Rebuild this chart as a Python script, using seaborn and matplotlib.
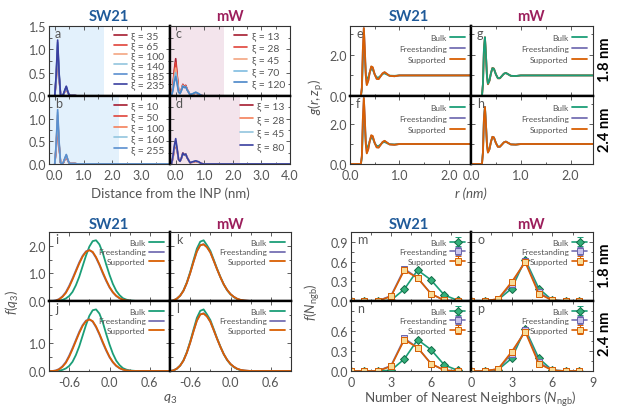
import numpy as np
import matplotlib
matplotlib.use("Agg")
import matplotlib.pyplot as plt
import seaborn as sns
from matplotlib.ticker import AutoMinorLocator

# ---------------- data: density profiles (a-d) ----------------
dist_sw = [0.0, 0.05, 0.1, 0.15, 0.2, 0.25, 0.3, 0.35, 0.4, 0.45, 0.5, 0.55, 0.6, 0.7, 0.8, 0.9, 1.0, 4.0]
dist_mw = [-0.15, -0.1, -0.05, 0.0, 0.05, 0.1, 0.15, 0.2, 0.25, 0.3, 0.35, 0.4, 0.5, 0.6, 0.7, 0.8, 0.9, 1.0, 1.2, 4.0]

xi_a = [35, 65, 100, 140, 185, 235]
rho_a = [
    [0, 0.35, 0.95, 0.40, 0.03, 0, 0.03, 0.10, 0.16, 0.08, 0.02, 0.01, 0.01, 0.01, 0, 0, 0, 0],
    [0, 0.37, 1.00, 0.42, 0.03, 0, 0.03, 0.10, 0.17, 0.09, 0.02, 0.01, 0.01, 0.01, 0, 0, 0, 0],
    [0, 0.40, 1.05, 0.44, 0.03, 0, 0.03, 0.11, 0.18, 0.09, 0.02, 0.01, 0.01, 0.01, 0, 0, 0, 0],
    [0, 0.42, 1.10, 0.46, 0.03, 0, 0.03, 0.12, 0.19, 0.10, 0.02, 0.01, 0.01, 0.01, 0, 0, 0, 0],
    [0, 0.44, 1.15, 0.48, 0.03, 0, 0.04, 0.12, 0.20, 0.10, 0.02, 0.01, 0.01, 0.01, 0, 0, 0, 0],
    [0, 0.46, 1.20, 0.50, 0.03, 0, 0.04, 0.13, 0.21, 0.10, 0.02, 0.01, 0.01, 0.01, 0, 0, 0, 0],
]
xi_b = [10, 50, 100, 160, 255]
rho_b = [
    [0, 0.35, 0.95, 0.40, 0.03, 0, 0.03, 0.10, 0.17, 0.08, 0.02, 0.01, 0.01, 0.01, 0, 0, 0, 0],
    [0, 0.38, 1.00, 0.42, 0.03, 0, 0.03, 0.11, 0.18, 0.09, 0.02, 0.01, 0.01, 0.01, 0, 0, 0, 0],
    [0, 0.41, 1.08, 0.45, 0.03, 0, 0.03, 0.11, 0.19, 0.09, 0.02, 0.01, 0.01, 0.01, 0, 0, 0, 0],
    [0, 0.43, 1.14, 0.47, 0.03, 0, 0.04, 0.12, 0.20, 0.10, 0.02, 0.01, 0.01, 0.01, 0, 0, 0, 0],
    [0, 0.46, 1.20, 0.50, 0.03, 0, 0.04, 0.13, 0.21, 0.10, 0.02, 0.01, 0.01, 0.01, 0, 0, 0, 0],
]
xi_c = [13, 28, 45, 70, 120]
rho_c = [
    [0, 0.20, 0.55, 0.80, 0.45, 0.12, 0.06, 0.14, 0.25, 0.20, 0.23, 0.14, 0.03, 0.04, 0.07, 0.04, 0.01, 0, 0, 0],
    [0, 0.18, 0.50, 0.72, 0.42, 0.12, 0.06, 0.14, 0.24, 0.20, 0.22, 0.14, 0.03, 0.04, 0.07, 0.04, 0.01, 0, 0, 0],
    [0, 0.15, 0.42, 0.60, 0.36, 0.10, 0.06, 0.13, 0.23, 0.19, 0.21, 0.13, 0.03, 0.04, 0.07, 0.04, 0.01, 0, 0, 0],
    [0, 0.13, 0.36, 0.50, 0.30, 0.09, 0.05, 0.12, 0.22, 0.18, 0.20, 0.13, 0.03, 0.05, 0.08, 0.05, 0.01, 0, 0, 0],
    [0, 0.11, 0.30, 0.42, 0.26, 0.08, 0.05, 0.12, 0.21, 0.18, 0.20, 0.13, 0.03, 0.05, 0.08, 0.05, 0.01, 0, 0, 0],
]
xi_d = [13, 28, 45, 80]
rho_d = [
    [0, 0.12, 0.32, 0.45, 0.30, 0.10, 0.06, 0.13, 0.24, 0.20, 0.22, 0.14, 0.03, 0.04, 0.06, 0.04, 0.01, 0, 0, 0],
    [0, 0.13, 0.34, 0.48, 0.31, 0.10, 0.06, 0.13, 0.24, 0.20, 0.22, 0.14, 0.03, 0.04, 0.06, 0.04, 0.01, 0, 0, 0],
    [0, 0.14, 0.36, 0.50, 0.32, 0.10, 0.06, 0.13, 0.23, 0.19, 0.22, 0.14, 0.03, 0.05, 0.07, 0.04, 0.01, 0, 0, 0],
    [0, 0.16, 0.40, 0.56, 0.34, 0.10, 0.06, 0.13, 0.24, 0.20, 0.22, 0.14, 0.03, 0.05, 0.07, 0.05, 0.01, 0, 0, 0],
]
cols_a = ['#a51c30', '#e0433a', '#f4a582', '#92c5de', '#5a8fcf', '#3a3fa0']
cols_b = ['#a51c30', '#e0433a', '#f4805a', '#92c5de', '#5a8fcf']
cols_c = ['#a51c30', '#e0433a', '#f4a582', '#7fbce0', '#4a86c8']
cols_d = ['#a51c30', '#f4805a', '#92c5de', '#3a3fa0']

# ---------------- data: g(r) (e-h) ----------------
r_nm = [0.0, 0.22, 0.24, 0.26, 0.28, 0.30, 0.32, 0.34, 0.37, 0.40, 0.43, 0.46,
        0.50, 0.54, 0.58, 0.62, 0.66, 0.70, 0.75, 0.80, 0.90, 1.00, 1.20, 2.45]
gr_sw_bulk = [0, 0, 0.3, 1.7, 2.45, 1.9, 1.1, 0.8, 0.9, 1.15, 1.32, 1.28, 1.05, 0.9, 0.9, 0.98, 1.07, 1.1, 1.04, 0.99, 0.98, 1.0, 1.0, 1.0]
gr_sw_free = [0, 0, 0.4, 2.2, 3.3, 2.3, 1.0, 0.55, 0.75, 1.15, 1.42, 1.38, 1.05, 0.84, 0.83, 0.96, 1.1, 1.15, 1.07, 0.98, 0.96, 1.0, 1.0, 1.0]
gr_sw_supp = [0, 0, 0.4, 2.25, 3.3, 2.3, 0.98, 0.53, 0.74, 1.15, 1.44, 1.4, 1.05, 0.83, 0.82, 0.96, 1.1, 1.16, 1.07, 0.98, 0.96, 1.0, 1.0, 1.0]
gr_mw_bulk = [0, 0, 0.6, 2.3, 2.85, 2.0, 1.0, 0.6, 0.75, 1.1, 1.35, 1.32, 1.05, 0.87, 0.87, 0.97, 1.08, 1.12, 1.05, 0.98, 0.97, 1.0, 1.0, 1.0]
gr_mw_free = [0, 0, 0.6, 2.3, 2.85, 2.0, 0.98, 0.58, 0.74, 1.1, 1.36, 1.33, 1.05, 0.86, 0.86, 0.97, 1.08, 1.12, 1.05, 0.98, 0.97, 1.0, 1.0, 1.0]
gr_mw_supp = [0, 0, 0.55, 2.25, 2.85, 2.0, 0.98, 0.57, 0.73, 1.1, 1.36, 1.33, 1.05, 0.86, 0.86, 0.97, 1.08, 1.12, 1.05, 0.98, 0.97, 1.0, 1.0, 1.0]

# ---------------- data: q3 distributions (i-l) ----------------
q3 = np.round(np.arange(-0.9, 0.901, 0.05), 2)
fq_sw_bulk = [0, 0, 0, 0.01, 0.04, 0.09, 0.18, 0.33, 0.57, 0.88, 1.26, 1.64, 1.97, 2.17, 2.2, 2.05, 1.74, 1.33, 0.95,
              0.62, 0.37, 0.21, 0.10, 0.05, 0.02, 0.01, 0, 0, 0, 0, 0, 0, 0, 0, 0, 0, 0]
fq_sw_free = [0, 0, 0.02, 0.07, 0.17, 0.32, 0.55, 0.82, 1.11, 1.40, 1.64, 1.80, 1.85, 1.76, 1.56, 1.30, 1.00, 0.73, 0.49,
              0.31, 0.18, 0.10, 0.05, 0.02, 0.01, 0, 0, 0, 0, 0, 0, 0, 0, 0, 0, 0, 0]
fq_sw_supp = [0, 0, 0.01, 0.06, 0.15, 0.29, 0.51, 0.78, 1.07, 1.36, 1.61, 1.78, 1.84, 1.78, 1.59, 1.33, 1.04, 0.76, 0.51,
              0.32, 0.19, 0.10, 0.05, 0.02, 0.01, 0, 0, 0, 0, 0, 0, 0, 0, 0, 0, 0, 0]
fq_mw_bulk = [0, 0.02, 0.08, 0.19, 0.38, 0.67, 1.05, 1.48, 1.90, 2.15, 2.20, 2.02, 1.82, 1.50, 1.17, 0.87, 0.60, 0.39, 0.24,
              0.14, 0.07, 0.03, 0.01, 0, 0, 0, 0, 0, 0, 0, 0, 0, 0, 0, 0, 0, 0]
fq_mw_free = [0, 0.02, 0.08, 0.19, 0.37, 0.65, 1.01, 1.42, 1.80, 2.02, 2.06, 1.95, 1.76, 1.46, 1.15, 0.86, 0.60, 0.40, 0.25,
              0.15, 0.08, 0.04, 0.02, 0.01, 0, 0, 0, 0, 0, 0, 0, 0, 0, 0, 0, 0, 0]
fq_mw_supp = [0, 0.02, 0.08, 0.19, 0.37, 0.65, 1.01, 1.42, 1.80, 2.02, 2.05, 1.95, 1.76, 1.46, 1.15, 0.86, 0.60, 0.40, 0.25,
              0.15, 0.08, 0.04, 0.02, 0.01, 0, 0, 0, 0, 0, 0, 0, 0, 0, 0, 0, 0, 0]

# ---------------- data: nearest neighbours (m-p) ----------------
n_ngb = [0, 1, 2, 3, 4, 5, 6, 7, 8]
fn_sw_bulk = [0, 0, 0, 0.01, 0.18, 0.47, 0.32, 0.09, 0.01]
fn_sw_free = [0, 0, 0, 0.08, 0.49, 0.35, 0.11, 0.01, 0]
fn_sw_supp = [0, 0, 0, 0.07, 0.47, 0.35, 0.11, 0.01, 0]
fn_mw_bulk = [0, 0, 0.02, 0.19, 0.63, 0.19, 0.01, 0, 0]
fn_mw_free = [0, 0, 0.03, 0.26, 0.61, 0.13, 0.01, 0, 0]
fn_mw_supp = [0, 0, 0.03, 0.29, 0.59, 0.11, 0.01, 0, 0]
fn_err = 0.012

systems = ['Bulk', 'Freestanding', 'Supported']
sys_cols = ['#1b9e77', '#7570b3', '#d95f02']

# ---------------- style ----------------
sns.set_theme(style="ticks")
plt.rcParams['font.family'] = ['Lato', 'DejaVu Sans']
plt.rcParams['mathtext.fontset'] = 'custom'
plt.rcParams['mathtext.rm'] = 'Lato'
plt.rcParams['mathtext.it'] = 'Lato:italic'
GRAY = '#555555'
SW_COL = '#1f5a99'
MW_COL = '#9c1f5c'

W, H = 620.0, 414.0
fig = plt.figure(figsize=(6.2, 4.14), dpi=100)


def box(l, t, r, b):
    return fig.add_axes([l / W, 1 - b / H, (r - l) / W, (b - t) / H])


def style(ax, left_col, top_row, letter):
    for s in ax.spines.values():
        s.set_color('#333333')
        s.set_linewidth(0.8)
    inner_x = 'right' if left_col else 'left'
    inner_y = 'bottom' if top_row else 'top'
    for s in (inner_x, inner_y):
        ax.spines[s].set_color('black')
        ax.spines[s].set_linewidth(1.7)
    ax.tick_params(which='both', direction='in', top=True, right=True,
                   color='#444444', width=0.6, labelsize=9, labelcolor=GRAY, pad=2)
    ax.tick_params(axis='x', pad=3.5)
    ax.tick_params(which='major', length=3)
    ax.tick_params(which='minor', length=1.8)
    ax.tick_params(labelleft=left_col, labelbottom=not top_row)
    ax.xaxis.set_minor_locator(AutoMinorLocator(2))
    ax.yaxis.set_minor_locator(AutoMinorLocator(2))
    ax.set_xlabel('')
    ax.set_ylabel('')
    ax.text(0.05, 0.98, letter, transform=ax.transAxes, ha='left', va='top',
            fontsize=9, color=GRAY)


def gray_legend(ax, **kw):
    leg = ax.legend(frameon=False, **kw)
    for t in leg.get_texts():
        t.set_color(GRAY)
    return leg


# ---------------- panels a-d ----------------
dist_panels = [
    ((49, 27, 170, 97), dist_sw, rho_a, xi_a, cols_a, '#e3f1fc', 1.72, True, True, 'a', 0.05),
    ((49, 97, 170, 165), dist_sw, rho_b, xi_b, cols_b, '#e3f1fc', 2.24, True, False, 'b', 0.15),
    ((170, 27, 290, 97), dist_mw, rho_c, xi_c, cols_c, '#f3e4ec', 1.68, False, True, 'c', 0.25),
    ((170, 97, 290, 165), dist_mw, rho_d, xi_d, cols_d, '#f3e4ec', 2.25, False, False, 'd', 0.4),
]
for pos, xs, rows, xis, cols, shade, edge, left, top, letter, lsp in dist_panels:
    ax = box(*pos)
    ax.axvspan(-0.2, edge, color=shade, lw=0, zorder=0)
    for ys, xi, c in zip(rows, xis, cols):
        sns.lineplot(x=xs, y=ys, ax=ax, color=c, lw=1.2, sort=False,
                     estimator=None, label=f'ξ = {xi}')
    ax.set_xlim(-0.2, 4.0)
    ax.set_ylim(0, 1.5)
    ax.set_xticks([0, 1, 2, 3] if left else [0, 1, 2, 3, 4])
    ax.set_yticks([0, 0.5, 1.0, 1.5] if top else [0, 0.5, 1.0])
    ax.xaxis.set_major_formatter(matplotlib.ticker.FormatStrFormatter('%.1f'))
    ax.yaxis.set_major_formatter(matplotlib.ticker.FormatStrFormatter('%.1f'))
    style(ax, left, top, letter)
    gray_legend(ax, loc='upper right', bbox_to_anchor=(1.0, 1.0), fontsize=7.5,
                labelspacing=lsp, handlelength=1.3, handletextpad=0.4, borderaxespad=0.1)

# ---------------- panels e-h ----------------
gr_panels = [
    ((350, 27, 471, 97), [gr_sw_bulk, gr_sw_free, gr_sw_supp], True, True, 'e'),
    ((350, 97, 471, 165), [gr_sw_bulk, gr_sw_free, gr_sw_supp], True, False, 'f'),
    ((471, 27, 593, 97), [gr_mw_bulk, gr_mw_free, gr_mw_supp], False, True, 'g'),
    ((471, 97, 593, 165), [gr_mw_bulk, gr_mw_free, gr_mw_supp], False, False, 'h'),
]
for pos, rows, left, top, letter in gr_panels:
    ax = box(*pos)
    # in panel g the bulk curve is drawn on top
    order = [1, 2, 0] if (not left and top) else [0, 1, 2]
    for k in order:
        sns.lineplot(x=r_nm, y=rows[k], ax=ax, color=sys_cols[k], lw=1.3,
                     sort=False, estimator=None, label=systems[k])
    ax.set_xlim(0, 2.45)
    ax.set_ylim(0, 3.4)
    ax.set_xticks([0, 1, 2])
    ax.set_yticks([0, 2])
    ax.xaxis.set_major_formatter(matplotlib.ticker.FormatStrFormatter('%.1f'))
    ax.yaxis.set_major_formatter(matplotlib.ticker.FormatStrFormatter('%.1f'))
    style(ax, left, top, letter)
    h, l = ax.get_legend_handles_labels()
    idx = [l.index(s) for s in systems]
    gray_legend(ax, handles=[h[i] for i in idx], labels=systems, loc='upper right',
                bbox_to_anchor=(1.0, 0.97), fontsize=6, markerfirst=False,
                labelspacing=0.5, handlelength=1.8, handletextpad=0.4, borderaxespad=0.3)

# ---------------- panels i-l ----------------
q_panels = [
    ((49, 233, 170, 302), [fq_sw_bulk, fq_sw_free, fq_sw_supp], True, True, 'i'),
    ((49, 302, 170, 372), [fq_sw_bulk, fq_sw_free, fq_sw_supp], True, False, 'j'),
    ((170, 233, 291, 302), [fq_mw_bulk, fq_mw_free, fq_mw_supp], False, True, 'k'),
    ((170, 302, 291, 372), [fq_mw_bulk, fq_mw_free, fq_mw_supp], False, False, 'l'),
]
for pos, rows, left, top, letter in q_panels:
    ax = box(*pos)
    for k in range(3):
        sns.lineplot(x=q3, y=rows[k], ax=ax, color=sys_cols[k], lw=1.3,
                     sort=False, estimator=None, label=systems[k])
    ax.set_xlim(-0.9, 0.9)
    ax.set_ylim(0, 2.5)
    ax.set_xticks([-0.6, 0.0, 0.6])
    ax.set_yticks([0, 1, 2] if top else [0, 1])
    ax.xaxis.set_major_formatter(matplotlib.ticker.FormatStrFormatter('%.1f'))
    ax.yaxis.set_major_formatter(matplotlib.ticker.FormatStrFormatter('%.1f'))
    style(ax, left, top, letter)
    gray_legend(ax, loc='upper right', bbox_to_anchor=(1.0, 0.99), fontsize=6,
                markerfirst=False, labelspacing=0.35, handlelength=1.8,
                handletextpad=0.4, borderaxespad=0.3)

# ---------------- panels m-p ----------------
mk_styles = [
    dict(marker='D', mfc='#33b07a', mec='#136b47'),
    dict(marker='s', mfc='#c9c3ec', mec='#6a64a8'),
    dict(marker='s', mfc='#f9dc98', mec='#d95f02'),
]
n_panels = [
    ((351, 233, 471, 302), [fn_sw_bulk, fn_sw_free, fn_sw_supp], True, True, 'm'),
    ((351, 302, 471, 372), [fn_sw_bulk, fn_sw_free, fn_sw_supp], True, False, 'n'),
    ((471, 233, 593, 302), [fn_mw_bulk, fn_mw_free, fn_mw_supp], False, True, 'o'),
    ((471, 302, 593, 372), [fn_mw_bulk, fn_mw_free, fn_mw_supp], False, False, 'p'),
]
for pos, rows, left, top, letter in n_panels:
    ax = box(*pos)
    for k in range(3):
        ax.errorbar(n_ngb, rows[k], yerr=fn_err, color=sys_cols[k], lw=1.2,
                    ms=3.8, mew=0.7, capsize=2, elinewidth=0.8,
                    label=systems[k], **mk_styles[k])
    ax.set_xlim(0, 9)
    ax.set_ylim(0, 1.05)
    ax.set_xticks([0, 3, 6, 9])
    ax.set_yticks([0, 0.3, 0.6, 0.9] if top else [0, 0.3, 0.6])
    ax.yaxis.set_major_formatter(matplotlib.ticker.FormatStrFormatter('%.1f'))
    style(ax, left, top, letter)
    if left:
        ax.set_xticklabels(['0', '3', '6', ''])
    gray_legend(ax, loc='upper right', bbox_to_anchor=(1.0, 0.99), fontsize=6,
                markerfirst=False, labelspacing=0.3, handlelength=1.8,
                handletextpad=0.4, borderaxespad=0.3)

# ---------------- figure texts ----------------
def ftext(x, y, s, **kw):
    fig.text(x / W, 1 - y / H, s, ha='center', va='center', **kw)


for x, y in [(109, 17), (409, 17), (109, 225), (409, 225)]:
    ftext(x, y, 'SW21', color=SW_COL, fontweight='bold', fontsize=10.5)
for x, y in [(230, 17), (531, 17), (230, 225), (531, 225)]:
    ftext(x, y, 'mW', color=MW_COL, fontweight='bold', fontsize=10.5)
for y, s in [(60, '1.8 nm'), (130, '2.4 nm'), (266, '1.8 nm'), (334, '2.4 nm')]:
    ftext(605, y, s, rotation=90, fontweight='bold', fontsize=10.5, color='black')

ftext(170, 194, 'Distance from the INP (nm)', fontsize=9.5, color=GRAY)
ftext(471, 194, 'r (nm)', fontsize=9.5, color=GRAY, fontstyle='italic')
ftext(170, 399, '$q_3$', fontsize=10, color=GRAY)
ftext(470, 399, r'Number of Nearest Neighbors ($N_\mathrm{ngb}$)', fontsize=9.5, color=GRAY)
ftext(316, 97, r'$g(r, z_\mathrm{p})$', fontsize=9.5, color=GRAY, rotation=90)
ftext(12, 302, r'$f(q_3)$', fontsize=9.5, color=GRAY, rotation=90)
ftext(312, 302, r'$f(N_\mathrm{ngb})$', fontsize=9.5, color=GRAY, rotation=90)

fig.savefig('out.png', dpi=100, facecolor='white')
